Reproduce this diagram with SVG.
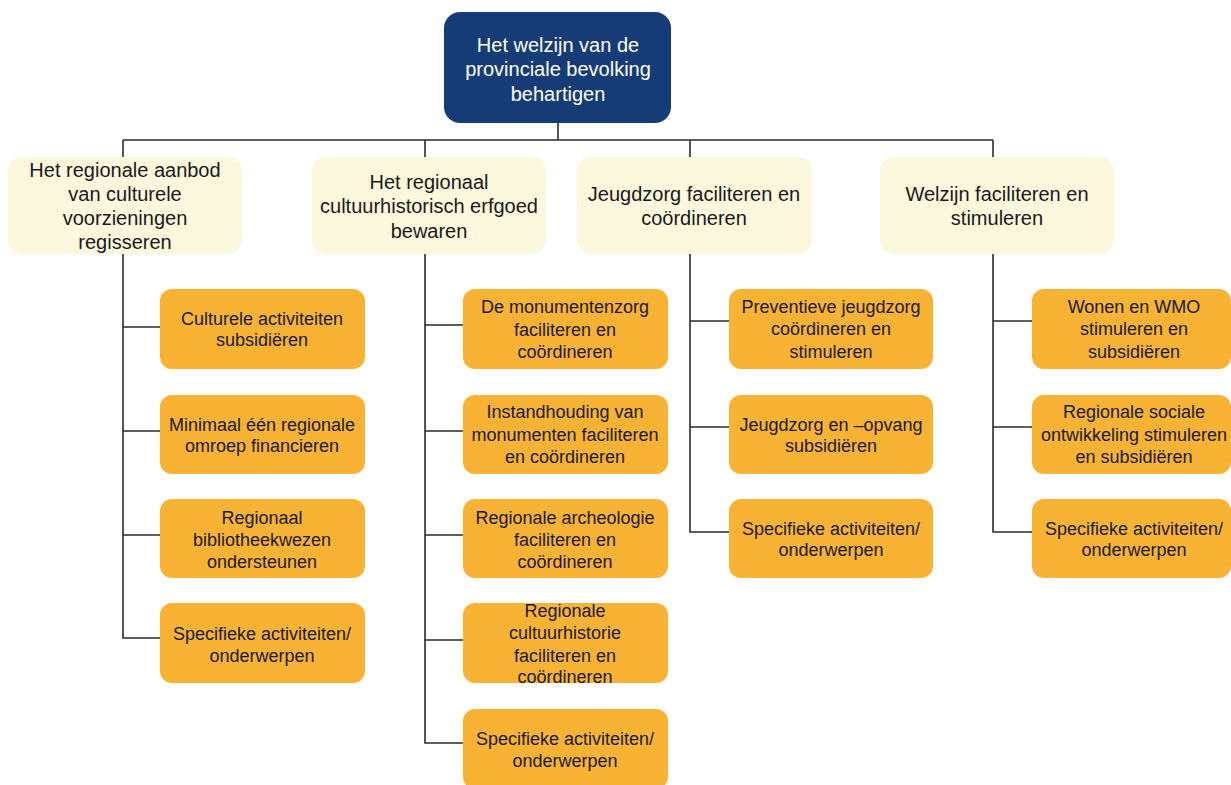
<svg xmlns="http://www.w3.org/2000/svg" width="1231" height="785" viewBox="0 0 1231 785">
<style>
.root{fill:#163c77}
.l1{fill:#fcf8dd}
.l2{fill:#f8b334}
.conn{fill:none;stroke:#2b2b2b;stroke-width:1.6}
text{font-family:"Liberation Sans",Arial,sans-serif;text-anchor:middle}
.tr{fill:#ffffff;font-size:20px}
.t1{fill:#1a1a1a;font-size:20px}
.t2{fill:#1a1a1a;font-size:18px}
</style>
<rect width="1231" height="785" fill="#ffffff"/>
<g id="connectors">
<path class="conn" d="M558 123V140M123 140H993M123 140V157M425 140V157M690 140V157M993 140V157"/>
<path class="conn" d="M123 254V638H160M123 327H160M123 431H160M123 535H160"/>
<path class="conn" d="M425 254V743H463M425 325H463M425 431H463M425 535H463M425 640H463"/>
<path class="conn" d="M690 254V532H729M690 321H729M690 427H729"/>
<path class="conn" d="M993 254V532H1032M993 321H1032M993 427H1032"/>
</g>
<g id="root">
<rect class="root" x="444" y="12" width="227" height="111" rx="16"/>
<text class="tr" x="558" y="52">Het welzijn van de</text>
<text class="tr" x="558" y="76">provinciale bevolking</text>
<text class="tr" x="558" y="101">behartigen</text>
</g>
<g id="n1">
<rect class="l1" x="8" y="157" width="234" height="97" rx="14"/>
<text class="t1" x="125" y="177">Het regionale aanbod</text>
<text class="t1" x="125" y="201">van culturele</text>
<text class="t1" x="125" y="225">voorzieningen</text>
<text class="t1" x="125" y="249">regisseren</text>
</g>
<g id="n2">
<rect class="l1" x="312" y="157" width="234" height="97" rx="14"/>
<text class="t1" x="429" y="189">Het regionaal</text>
<text class="t1" x="429" y="213">cultuurhistorisch erfgoed</text>
<text class="t1" x="429" y="238">bewaren</text>
</g>
<g id="n3">
<rect class="l1" x="577" y="157" width="235" height="97" rx="14"/>
<text class="t1" x="694" y="201">Jeugdzorg faciliteren en</text>
<text class="t1" x="694" y="225">coördineren</text>
</g>
<g id="n4">
<rect class="l1" x="880" y="157" width="234" height="97" rx="14"/>
<text class="t1" x="997" y="201">Welzijn faciliteren en</text>
<text class="t1" x="997" y="225">stimuleren</text>
</g>
<g id="n1a">
<rect class="l2" x="160" y="289" width="205" height="80" rx="12"/>
<text class="t2" x="262" y="325">Culturele activiteiten</text>
<text class="t2" x="262" y="346">subsidiëren</text>
</g>
<g id="n1b">
<rect class="l2" x="160" y="395" width="205" height="79" rx="12"/>
<text class="t2" x="262" y="431">Minimaal één regionale</text>
<text class="t2" x="262" y="452">omroep financieren</text>
</g>
<g id="n1c">
<rect class="l2" x="160" y="499" width="205" height="79" rx="12"/>
<text class="t2" x="262" y="524">Regionaal</text>
<text class="t2" x="262" y="546">bibliotheekwezen</text>
<text class="t2" x="262" y="568">ondersteunen</text>
</g>
<g id="n1d">
<rect class="l2" x="160" y="603" width="205" height="80" rx="12"/>
<text class="t2" x="262" y="640">Specifieke activiteiten/</text>
<text class="t2" x="262" y="662">onderwerpen</text>
</g>
<g id="n2a">
<rect class="l2" x="463" y="289" width="205" height="80" rx="12"/>
<text class="t2" x="565" y="313">De monumentenzorg</text>
<text class="t2" x="565" y="336">faciliteren en</text>
<text class="t2" x="565" y="358">coördineren</text>
</g>
<g id="n2b">
<rect class="l2" x="463" y="395" width="205" height="79" rx="12"/>
<text class="t2" x="565" y="418">Instandhouding van</text>
<text class="t2" x="565" y="441">monumenten faciliteren</text>
<text class="t2" x="565" y="463">en coördineren</text>
</g>
<g id="n2c">
<rect class="l2" x="463" y="499" width="205" height="79" rx="12"/>
<text class="t2" x="565" y="524">Regionale archeologie</text>
<text class="t2" x="565" y="546">faciliteren en</text>
<text class="t2" x="565" y="568">coördineren</text>
</g>
<g id="n2d">
<rect class="l2" x="463" y="603" width="205" height="80" rx="12"/>
<text class="t2" x="565" y="617">Regionale</text>
<text class="t2" x="565" y="639">cultuurhistorie</text>
<text class="t2" x="565" y="662">faciliteren en</text>
<text class="t2" x="565" y="683">coördineren</text>
</g>
<g id="n2e">
<rect class="l2" x="463" y="709" width="205" height="80" rx="12"/>
<text class="t2" x="565" y="745">Specifieke activiteiten/</text>
<text class="t2" x="565" y="767">onderwerpen</text>
</g>
<g id="n3a">
<rect class="l2" x="729" y="289" width="204" height="80" rx="12"/>
<text class="t2" x="831" y="313">Preventieve jeugdzorg</text>
<text class="t2" x="831" y="335">coördineren en</text>
<text class="t2" x="831" y="358">stimuleren</text>
</g>
<g id="n3b">
<rect class="l2" x="729" y="395" width="204" height="79" rx="12"/>
<text class="t2" x="831" y="431">Jeugdzorg en –opvang</text>
<text class="t2" x="831" y="452">subsidiëren</text>
</g>
<g id="n3c">
<rect class="l2" x="729" y="499" width="204" height="79" rx="12"/>
<text class="t2" x="831" y="535">Specifieke activiteiten/</text>
<text class="t2" x="831" y="556">onderwerpen</text>
</g>
<g id="n4a">
<rect class="l2" x="1032" y="289" width="199" height="80" rx="12"/>
<text class="t2" x="1134" y="313">Wonen en WMO</text>
<text class="t2" x="1134" y="335">stimuleren en</text>
<text class="t2" x="1134" y="358">subsidiëren</text>
</g>
<g id="n4b">
<rect class="l2" x="1032" y="395" width="199" height="79" rx="12"/>
<text class="t2" x="1134" y="418">Regionale sociale</text>
<text class="t2" x="1134" y="441">ontwikkeling stimuleren</text>
<text class="t2" x="1134" y="463">en subsidiëren</text>
</g>
<g id="n4c">
<rect class="l2" x="1032" y="499" width="199" height="79" rx="12"/>
<text class="t2" x="1134" y="535">Specifieke activiteiten/</text>
<text class="t2" x="1134" y="556">onderwerpen</text>
</g>
</svg>
